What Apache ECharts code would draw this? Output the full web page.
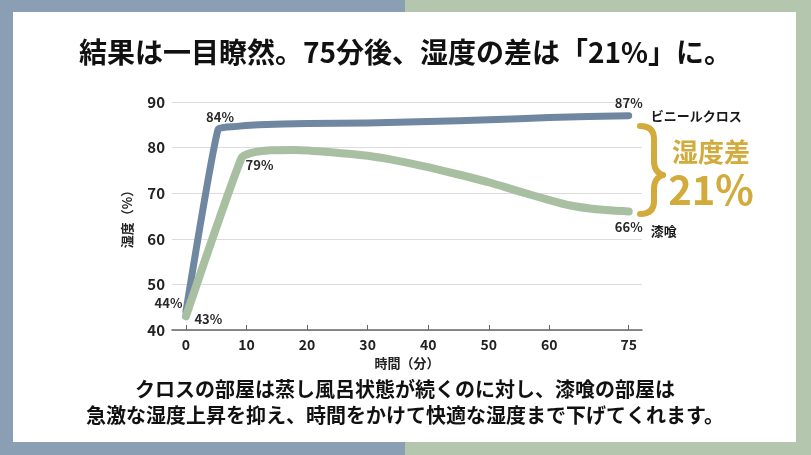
<!DOCTYPE html>
<html><head><meta charset="utf-8">
<script src="https://cdn.jsdelivr.net/npm/echarts@6/dist/echarts.min.js"></script>
<style>html,body{margin:0;padding:0;background:#fff}#c{width:811px;height:455px}</style>
</head><body><div id="c"></div>
<script>
const titleText = '結果は一目瞭然。75分後、湿度の差は「21%」に。';
const bodyLines = ['クロスの部屋は蒸し風呂状態が続くのに対し、漆喰の部屋は', '急激な湿度上昇を抑え、時間をかけて快適な湿度まで下げてくれます。'];
const xTicks = [0, 10, 20, 30, 40, 50, 60, 75];
const yTicks = [40, 50, 60, 70, 80, 90];
const vinylName = 'ビニールクロス';
const vinylData = [[0, 44], [5.3, 84], [8, 84.6], [12, 85], [20, 85.3], [30, 85.4], [40, 85.7], [50, 86.1], [60, 86.6], [75, 87]];
const plasterName = '漆喰';
const plasterData = [[0, 43], [9.2, 77.8], [11, 78.9], [14, 79.4], [18, 79.5], [24, 79.0], [30, 78.2], [35, 77.1], [40, 75.7], [45, 74.1], [50, 72.4], [55, 70.4], [60, 68.5], [64, 67.3], [68, 66.6], [72, 66.2], [75, 66]];
const gapTitle = '湿度差';
const gapValue = '21%';
const axisNames = { x: '時間（分）', y: '湿度（%）' };

// the reference's x axis compresses the last interval (60 → 75)
const disp = x => x <= 60 ? x : 60 + (x - 60) * 0.874;
const BLUE = '#6f87a0', GREEN = '#a9bfa1', GOLD = '#d2ab3c';
const FF = '"Noto Sans CJK JP","Noto Sans",sans-serif';

function labelFor(series, i) {
  const lab = { show: true, formatter: p => Math.round(p.value[2]) + '%', color: '#2a2a2a', fontSize: 13, fontWeight: 600, fontFamily: FF };
  if (series === 'v') {
    if (i === 0) return Object.assign(lab, { position: 'left', offset: [2, -9] });
    if (i === 1) return Object.assign(lab, { position: 'top', offset: [2, 0] });
    if (i === vinylData.length - 1) return Object.assign(lab, { position: 'top', offset: [0, -1] });
  } else {
    if (i === 0) return Object.assign(lab, { position: 'right', offset: [3, 3] });
    if (i === 2) return Object.assign(lab, { position: 'bottom', offset: [7, 0] });
    if (i === plasterData.length - 1) return Object.assign(lab, { position: 'bottom', offset: [0, 4] });
  }
  return { show: false };
}
const mk = (arr, s) => arr.map((d, i) => ({ value: [disp(d[0]), d[1], d[1]], label: labelFor(s, i) }));

// curly brace pieces, relative to its top-left corner
const BX = 640, BY = 125;
const braceStyle = { fill: null, stroke: GOLD, lineWidth: 6, lineCap: 'round' };
const bz = (x1, y1, c1x, c1y, c2x, c2y, x2, y2) => ({ type: 'bezierCurve', silent: true, shape: { x1: BX + x1, y1: BY + y1, cpx1: BX + c1x, cpy1: BY + c1y, cpx2: BX + c2x, cpy2: BY + c2y, x2: BX + x2, y2: BY + y2 }, style: braceStyle });
const ln = (x1, y1, x2, y2) => ({ type: 'line', silent: true, shape: { x1: BX + x1, y1: BY + y1, x2: BX + x2, y2: BY + y2 }, style: braceStyle });

const chart = echarts.init(document.getElementById('c'));
chart.setOption({
  backgroundColor: '#fff',
  animation: false,
  title: {
    text: titleText, left: 'center', top: 33,
    textStyle: { fontSize: 28, fontWeight: 'bold', color: '#111', fontFamily: FF }
  },
  grid: { left: 172, right: 169, top: 102, bottom: 125 },
  xAxis: {
    type: 'value', min: -2.3, max: 75.3,
    name: axisNames.x, nameLocation: 'middle', nameGap: 27,
    nameTextStyle: { fontSize: 13, fontWeight: 'bold', color: '#222', fontFamily: FF },
    axisLine: { lineStyle: { color: '#666', width: 1.5 } },
    axisTick: { show: true, inside: true, length: 5, customValues: xTicks.map(disp), lineStyle: { color: '#666' } },
    axisLabel: {
      customValues: xTicks.map(disp), margin: 8,
      formatter: v => { const i = xTicks.map(disp).findIndex(t => Math.abs(t - v) < 1e-6); return i >= 0 ? String(xTicks[i]) : ''; },
      fontSize: 14, fontWeight: 'bold', color: '#222', fontFamily: FF
    },
    splitLine: { show: false }
  },
  yAxis: {
    type: 'value', min: yTicks[0], max: yTicks[yTicks.length - 1], interval: 10,
    name: axisNames.y, nameLocation: 'middle', nameGap: 38, nameRotate: 90,
    nameTextStyle: { fontSize: 13, fontWeight: 'bold', color: '#222', fontFamily: FF },
    axisLine: { show: false }, axisTick: { show: false },
    axisLabel: { margin: 7, fontSize: 15, fontWeight: 'bold', color: '#222', fontFamily: FF },
    splitLine: { lineStyle: { color: '#dcdcdc', width: 1 } }
  },
  series: [
    {
      name: vinylName, type: 'line', data: mk(vinylData, 'v'), smooth: 0.15,
      symbol: 'circle', symbolSize: 1, showSymbol: true, itemStyle: { color: 'rgba(0,0,0,0)' },
      lineStyle: { color: BLUE, width: 7, cap: 'round', join: 'round' },
      endLabel: { show: true, formatter: '{a}', distance: 22, offset: [0, 0], color: '#1a1a1a', fontSize: 13, fontWeight: 'bold', fontFamily: FF },
      z: 3
    },
    {
      name: plasterName, type: 'line', data: mk(plasterData, 'p'), smooth: 0.2,
      symbol: 'circle', symbolSize: 1, showSymbol: true, itemStyle: { color: 'rgba(0,0,0,0)' },
      lineStyle: { color: GREEN, width: 8, cap: 'round', join: 'round' },
      endLabel: { show: true, formatter: '{a}', distance: 22, offset: [0, 20], color: '#1a1a1a', fontSize: 13, fontWeight: 'bold', fontFamily: FF },
      z: 4
    }
  ],
  graphic: [
    { type: 'rect', shape: { x: 0, y: 0, width: 405, height: 12 }, style: { fill: '#8a9fb4' }, silent: true },
    { type: 'rect', shape: { x: 405, y: 0, width: 406, height: 12 }, style: { fill: '#b4c6ad' }, silent: true },
    { type: 'rect', shape: { x: 0, y: 0, width: 13, height: 455 }, style: { fill: '#8a9fb4' }, silent: true },
    { type: 'rect', shape: { x: 796, y: 0, width: 15, height: 455 }, style: { fill: '#b4c6ad' }, silent: true },
    { type: 'rect', shape: { x: 0, y: 442, width: 405, height: 13 }, style: { fill: '#8a9fb4' }, silent: true },
    { type: 'rect', shape: { x: 405, y: 442, width: 406, height: 13 }, style: { fill: '#b4c6ad' }, silent: true },
    bz(0, 1, 9, 1, 14, 5, 14, 14),
    ln(14, 14, 14, 36),
    bz(14, 36, 14, 44, 17, 48, 23, 50),
    bz(23, 50, 17, 52, 14, 56, 14, 64),
    ln(14, 64, 14, 76),
    bz(14, 76, 14, 85, 9, 89, 0, 89),
    { type: 'text', x: 711, y: 152, silent: true, style: { text: gapTitle, fill: GOLD, font: 'bold 26px ' + FF, textAlign: 'center', textVerticalAlign: 'middle' } },
    { type: 'text', x: 711, y: 190, silent: true, style: { text: gapValue, fill: GOLD, font: 'bold 40px ' + FF, textAlign: 'center', textVerticalAlign: 'middle' } },
    { type: 'text', x: 405, y: 389, silent: true, style: { text: bodyLines[0], fill: '#111', font: 'bold 20px ' + FF, textAlign: 'center', textVerticalAlign: 'middle' } },
    { type: 'text', x: 405, y: 415, silent: true, style: { text: bodyLines[1], fill: '#111', font: 'bold 20px ' + FF, textAlign: 'center', textVerticalAlign: 'middle' } }
  ]
});
</script></body></html>
